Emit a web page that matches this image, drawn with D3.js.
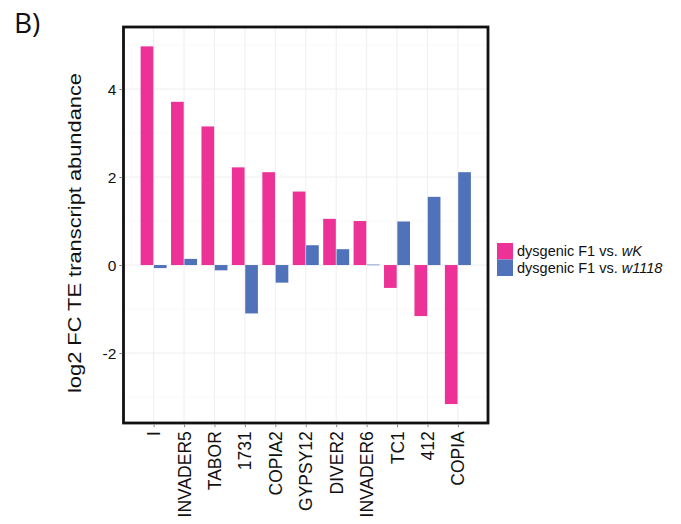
<!DOCTYPE html>
<html>
<head>
<meta charset="utf-8">
<script src="https://cdn.jsdelivr.net/npm/d3@7"></script>
<style>
  html, body { margin: 0; padding: 0; background: #fff; }
  svg { display: block; font-family: "Liberation Sans", Arial, sans-serif; }
</style>
</head>
<body>
<svg id="chart" width="681" height="524"></svg>
<script>
// Transposable elements, ordered by fold change against wK
const categories = ["I", "INVADER5", "TABOR", "1731", "COPIA2", "GYPSY12", "DIVER2", "INVADER6", "TC1", "412", "COPIA"];
// log2 fold change, dysgenic F1 vs. wK
const vsWK = [4.97, 3.71, 3.15, 2.22, 2.11, 1.67, 1.05, 1.00, -0.52, -1.16, -3.16];
// log2 fold change, dysgenic F1 vs. w1118
const vsW1118 = [-0.07, 0.14, -0.12, -1.10, -0.40, 0.45, 0.36, 0.01, 0.99, 1.55, 2.11];
const seriesKeys = ["wK", "w1118"];
const seriesColors = ["#EC3296", "#4F72BA"];
const yTicks = [-2, 0, 2, 4];
const yMinorTicks = [-3, -1, 1, 3, 5];

const svg = d3.select("#chart");
const m = { left: 123.5, right: 488, top: 27, bottom: 423 };

const x = d3.scalePoint().domain(categories).range([m.left, m.right]).padding(0.99);
const y = d3.scaleLinear().domain([-3.59, 5.41]).range([m.bottom, m.top]);
const xSub = d3.scaleBand().domain(seriesKeys).range([-13, 13]).paddingInner(0.05);
const color = d3.scaleOrdinal().domain(seriesKeys).range(seriesColors);

// faint background grid
const grid = svg.append("g");
grid.selectAll(".ymin").data(yMinorTicks).join("line")
  .attr("x1", m.left).attr("x2", m.right)
  .attr("y1", d => y(d)).attr("y2", d => y(d))
  .attr("stroke", "#f7f7f7").attr("stroke-width", 0.8);
grid.selectAll(".ymaj").data(yTicks).join("line")
  .attr("x1", m.left).attr("x2", m.right)
  .attr("y1", d => y(d)).attr("y2", d => y(d))
  .attr("stroke", "#eeeeee").attr("stroke-width", 1);
grid.selectAll(".xmaj").data(categories).join("line")
  .attr("x1", d => x(d)).attr("x2", d => x(d))
  .attr("y1", m.top).attr("y2", m.bottom)
  .attr("stroke", "#eeeeee").attr("stroke-width", 1);

// grouped bars
const rows = categories.map((c, i) => ({ cat: c, values: [
  { key: "wK", v: vsWK[i] }, { key: "w1118", v: vsW1118[i] }
]}));
svg.append("g").selectAll("g").data(rows).join("g")
  .attr("transform", d => `translate(${x(d.cat)},0)`)
  .selectAll("rect").data(d => d.values).join("rect")
  .attr("x", d => xSub(d.key))
  .attr("width", xSub.bandwidth())
  .attr("y", d => y(Math.max(0, d.v)))
  .attr("height", d => Math.max(0.6, Math.abs(y(d.v) - y(0))))
  .attr("fill", d => color(d.key));

// panel border
svg.append("rect")
  .attr("x", m.left).attr("y", m.top)
  .attr("width", m.right - m.left).attr("height", m.bottom - m.top)
  .attr("fill", "none").attr("stroke", "#111").attr("stroke-width", 2.8);

// axes
const yAxis = d3.axisLeft(y).tickValues(yTicks).tickSize(3).tickPadding(3).tickFormat(d3.format("d"));
const yg = svg.append("g").attr("transform", `translate(${m.left - 1.2},0)`).call(yAxis);
yg.select(".domain").remove();
yg.selectAll(".tick line").attr("stroke", "#888");
yg.selectAll(".tick text").attr("font-size", 15.5).attr("fill", "#111")
  .text(d => d < 0 ? "-" + Math.abs(d) : d);

const xAxis = d3.axisBottom(x).tickSize(3).tickPadding(0);
const xg = svg.append("g").attr("transform", `translate(0,${m.bottom + 1.2})`).call(xAxis);
xg.select(".domain").remove();
xg.selectAll(".tick line").attr("stroke", "#888");
xg.selectAll(".tick text")
  .attr("font-size", 17.5).attr("fill", "#111")
  .attr("text-anchor", "end")
  .attr("transform", "translate(6,7) rotate(-90)")
  .attr("x", 0).attr("y", 0).attr("dy", null);

// y axis title
svg.append("text")
  .attr("transform", "translate(81,233) rotate(-90)")
  .attr("text-anchor", "middle")
  .attr("font-size", 18)
  .attr("fill", "#111")
  .attr("textLength", 320).attr("lengthAdjust", "spacingAndGlyphs")
  .text("log2 FC TE transcript abundance");

// panel tag
svg.append("text")
  .attr("x", 14).attr("y", 33)
  .attr("font-size", 28).attr("fill", "#111")
  .attr("font-family", "'Open Sans', sans-serif")
  .text("B)");

// legend
const legend = svg.append("g").attr("transform", "translate(497,243)");
const items = legend.selectAll("g").data(seriesKeys).join("g")
  .attr("transform", (d, i) => `translate(0,${i * 16.5})`);
items.append("rect").attr("width", 16).attr("height", 16.5).attr("fill", d => color(d));
const lt = items.append("text").attr("x", 20).attr("y", 13).attr("font-size", 14.5).attr("fill", "#111");
lt.append("tspan").text("dysgenic F1 vs. ");
lt.append("tspan").attr("font-style", "italic").text(d => d);
</script>
</body>
</html>
